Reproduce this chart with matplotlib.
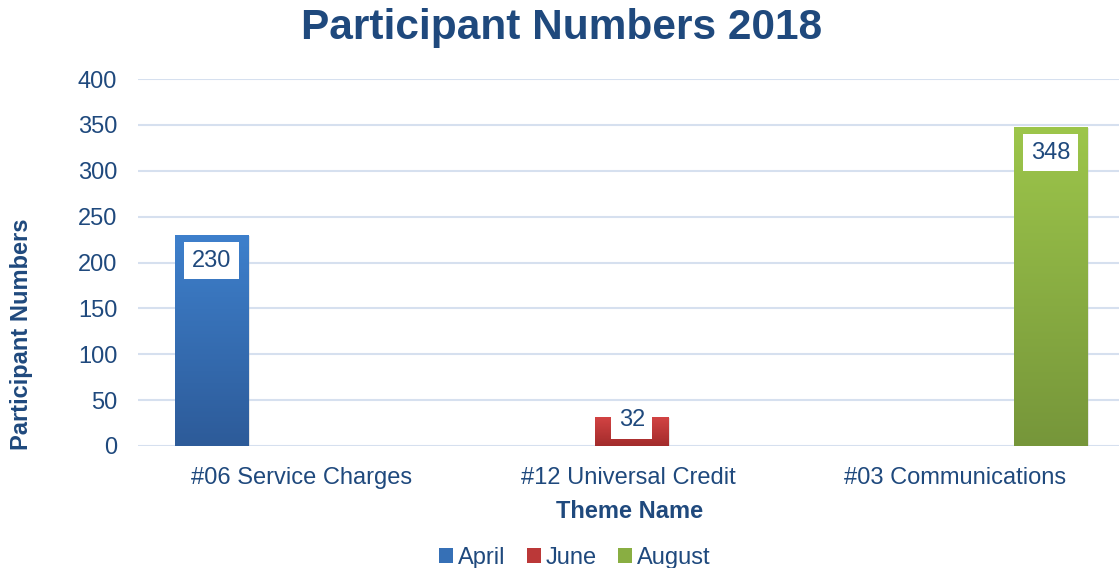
import matplotlib
matplotlib.use("Agg")
import matplotlib.pyplot as plt
import numpy as np
from matplotlib.colors import LinearSegmentedColormap
from matplotlib.patches import Patch

categories = ["#06 Service Charges", "#12 Universal Credit", "#03 Communications"]
series_names = ["April", "June", "August"]
april = [230, 0, 0]
june = [0, 32, 0]
august = [0, 0, 348]
yticks = [0, 50, 100, 150, 200, 250, 300, 350, 400]

title_color = "#1F497D"
text_color = "#1F497D"
grad = {
    "April": ("#3E80CC", "#2D5B99"),
    "June": ("#D44444", "#A22B2B"),
    "August": ("#9DC64B", "#76963A"),
}
legend_colors = {"April": "#3670B6", "June": "#BB3838", "August": "#89AE42"}

plt.rcParams['font.family'] = ['Liberation Sans', 'DejaVu Sans']

fig = plt.figure(figsize=(11.19, 5.68), dpi=100)
ax = fig.add_axes([138/1119, 1 - 446/568, (1119-138)/1119, 367/568])

n = len(categories)
x = np.arange(n)
width = 0.224
offsets = [-0.275, 0.01, 0.29]
data = [april, june, august]

ax.set_xlim(-0.5, n - 0.5)
ax.set_ylim(0, 400)
ax.set_yticks(yticks)
ax.grid(axis='y', color='#D6E0EF', linewidth=1.5, zorder=0)
ax.set_axisbelow(True)
for s in ax.spines.values():
    s.set_visible(False)
ax.tick_params(axis='both', length=0, labelsize=17, colors=text_color)
ax.tick_params(axis='x', pad=15)
ax.tick_params(axis='y', pad=15)
ax.set_xticks(x)
ax.set_xticklabels(categories)

for name, vals, off in zip(series_names, data, offsets):
    top_c, bot_c = grad[name]
    cmap = LinearSegmentedColormap.from_list(name, [bot_c, top_c])
    bars = ax.bar(x + off, vals, width, color='none', edgecolor='none', zorder=3)
    for b, v in zip(bars, vals):
        if v <= 0:
            continue
        x0, w = b.get_x(), b.get_width()
        # shadow
        ax.bar(x0 + w/2 + 0.003, v, w + 0.006, bottom=-1.5, color='#BBBBBB', alpha=0.35,
               zorder=2, edgecolor='none')
        g = np.linspace(0, 1, 256).reshape(-1, 1)
        im = ax.imshow(g, extent=[x0, x0 + w, 0, v], origin='lower', cmap=cmap,
                       aspect='auto', zorder=3)
        im.set_clip_path(b)
        yc = max(v - 28.3, 27.8)
        ax.text(x0 + w/2, yc, f"{v}", ha='center', va='center', fontsize=17,
                color=text_color, zorder=5,
                bbox=dict(boxstyle='square,pad=0.32', fc='white', ec='none'))

ax.set_xlim(-0.5, n - 0.5)
ax.set_ylim(0, 400)

fig.text(562/1119, 1 - 28/568, "Participant Numbers 2018", ha='center', va='center',
         fontsize=30.5, fontweight='bold', color=title_color)
fig.text(630/1119, 1 - 511/568, "Theme Name", ha='center', va='center',
         fontsize=17, fontweight='bold', color=text_color)
fig.text(22/1119, 1 - 334/568, "Participant Numbers", ha='center', va='center',
         rotation=90, fontsize=17, fontweight='bold', color=text_color)

handles = [Patch(facecolor=legend_colors[s], edgecolor='none') for s in series_names]
fig.legend(handles, series_names, loc='center', bbox_to_anchor=(575/1119, 1 - 558/568),
           ncol=3, frameon=False, fontsize=17, handlelength=0.6, handleheight=0.6,
           handletextpad=0.2, columnspacing=0.9, labelcolor=text_color)

fig.savefig("out.png", dpi=100)
